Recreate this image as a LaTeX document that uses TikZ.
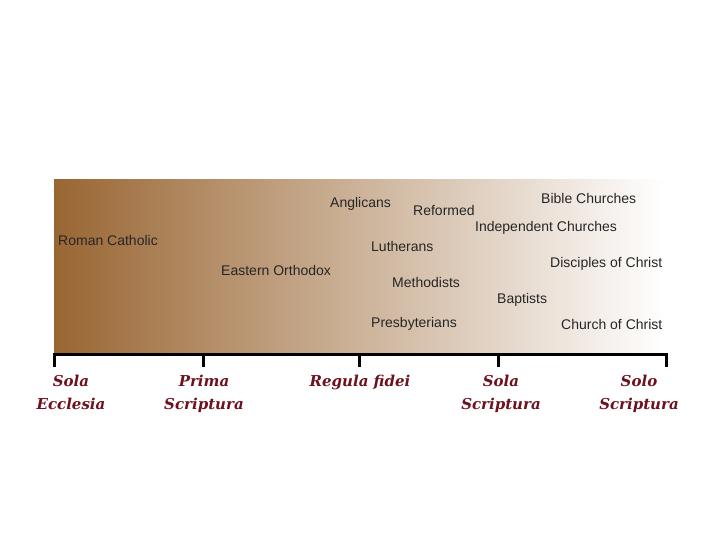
\documentclass[tikz,border=0pt]{standalone}
\usepackage{fontspec}
\setmainfont{Liberation Sans}
\newfontfamily\handfont{DejaVu Serif}
\begin{document}
\begin{tikzpicture}[x=1pt,y=-1pt,
  den/.style={anchor=west,inner sep=0pt,font=\fontsize{14}{16}\selectfont,text=black!85},
  poslabel/.style={align=center,inner sep=0pt,font=\fontsize{15}{23}\selectfont\handfont\bfseries\itshape,text={rgb,255:red,110;green,16;blue,30}},
  axis/.style={line width=3pt}]
\useasboundingbox (0,0) rectangle (720,540);
\shade[left color={rgb,255:red,153;green,102;blue,51}, middle color={rgb,255:red,206;green,190;blue,182}, right color=white] (54,180) rectangle (665,352);
% axis
\coordinate (a0) at (54,367);
\coordinate (a1) at (203,367);
\coordinate (a2) at (359,367);
\coordinate (a3) at (498,367);
\coordinate (a4) at (666,367);
\coordinate (t0) at (54,354);
\coordinate (t4) at (666,354);
\draw[axis,line join=miter] (a0) -- (t0) -- (t4) -- (a4);
\draw[axis] (a1) -- (a1 |- t0);
\draw[axis] (a2) -- (a2 |- t0);
\draw[axis] (a3) -- (a3 |- t0);
% denominations
\node[den] (ang) at (330,204) {Anglicans};
\node[den] (ref) at (413,210) {Reformed};
\node[den] (bib) at (541,198) {Bible Churches};
\node[den] (rc) at (58,240) {Roman Catholic};
\node[den] (lut) at (371,246) {Lutherans};
\node[den] (ind) at (475,228) {Independent Churches};
\node[den] (eo) at (221,270) {Eastern Orthodox};
\node[den] (dis) at (550,264) {Disciples of Christ};
\node[den] (met) at (392,282) {Methodists};
\node[den] (bap) at (497,300) {Baptists};
\node[den] (pre) at (371,324) {Presbyterians};
\node[den] (coc) at (561,324) {Church of Christ};
% positions
\node[poslabel,anchor=north] (l0) at (71,375) {Sola\\Ecclesia};
\node[poslabel,anchor=north] (l1) at (204,375) {Prima\\Scriptura};
\node[poslabel,anchor=north] (l2) at (360,375) {Regula fidei};
\node[poslabel,anchor=north] (l3) at (501,375) {Sola\\Scriptura};
\node[poslabel,anchor=north] (l4) at (639,375) {Solo\\Scriptura};
\end{tikzpicture}
\end{document}
